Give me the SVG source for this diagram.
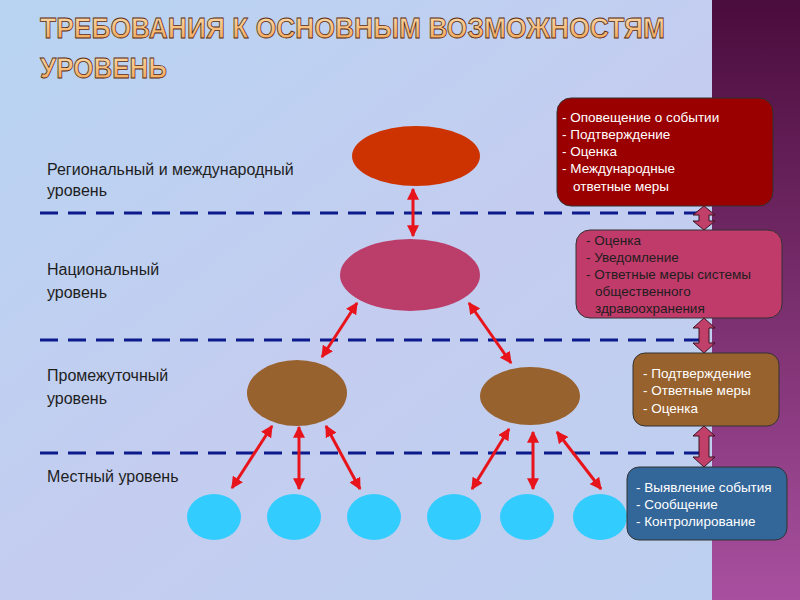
<svg xmlns="http://www.w3.org/2000/svg" width="800" height="600" viewBox="0 0 800 600">
<defs>
<linearGradient id="bg" x1="0" y1="0" x2="1" y2="1"><stop offset="0" stop-color="#b8d4f2"/><stop offset="0.5" stop-color="#c4cdf0"/><stop offset="1" stop-color="#bcd0f0"/></linearGradient>
<linearGradient id="strip" x1="0" y1="0" x2="0" y2="1"><stop offset="0" stop-color="#4a0c3c"/><stop offset="1" stop-color="#a8509f"/></linearGradient>
<linearGradient id="tt" x1="0" y1="0" x2="0" y2="1"><stop offset="0" stop-color="#fde0b0"/><stop offset="1" stop-color="#f0a050"/></linearGradient>
<marker id="ah" viewBox="0 0 10 10" refX="9" refY="5" markerWidth="4" markerHeight="4" orient="auto-start-reverse"><path d="M0,0 L10,5 L0,10 z" fill="#e8141c"/></marker>
</defs>
<style>
.lbl{font-family:"Liberation Sans",Arial,sans-serif;font-size:16px;fill:#1e1e1e}
.bt{font-family:"Liberation Sans",Arial,sans-serif;font-size:13.5px}
.dash{stroke:#0d1a8c;stroke-width:3;stroke-dasharray:18 10;fill:none}
.ar{stroke:#e8141c;stroke-width:3;fill:none;marker-start:url(#ah);marker-end:url(#ah)}
.box{stroke:#333;stroke-width:1}
.da{fill:#c0406a;stroke:#3a1020;stroke-width:1}
.title{font-family:"Liberation Sans",Arial,sans-serif;font-weight:bold;font-size:29px;fill:url(#tt);stroke:#5a2a10;stroke-width:0.8}
</style>
<rect width="800" height="600" fill="url(#bg)"/>
<rect x="712" y="0" width="88" height="600" fill="url(#strip)"/>
<text class="title" x="40" y="38" textLength="625" lengthAdjust="spacingAndGlyphs">ТРЕБОВАНИЯ К ОСНОВНЫМ ВОЗМОЖНОСТЯМ</text>
<text class="title" x="40" y="78" textLength="127" lengthAdjust="spacingAndGlyphs">УРОВЕНЬ</text>
<g id="connectors">
<path class="dash" d="M40,213 H700 M40,340 H700 M40,453 H700"/>
<line class="ar" x1="413" y1="189" x2="413" y2="236"/>
<line class="ar" x1="357" y1="303" x2="322" y2="357"/>
<line class="ar" x1="469" y1="303" x2="511" y2="363"/>
<line class="ar" x1="272" y1="426" x2="232" y2="488"/>
<line class="ar" x1="299" y1="427" x2="299" y2="489"/>
<line class="ar" x1="326" y1="426" x2="360" y2="489"/>
<line class="ar" x1="509" y1="429" x2="472" y2="489"/>
<line class="ar" x1="533" y1="432" x2="533" y2="489"/>
<line class="ar" x1="557" y1="432" x2="601" y2="489"/>
<path class="da" d="M704,206 L715,215 L709,215 L709,221 L715,221 L704,230 L693,221 L699,221 L699,215 L693,215 Z"/>
<path class="da" d="M704,318 L715,328 L709,328 L709,343 L715,343 L704,353 L693,343 L699,343 L699,328 L693,328 Z"/>
<path class="da" d="M704,426 L715,436 L709,436 L709,457 L715,457 L704,467 L693,457 L699,457 L699,436 L693,436 Z"/>
</g>
<g id="labels">
<text class="lbl" x="47" y="175">Региональный и международный</text>
<text class="lbl" x="47" y="196">уровень</text>
<text class="lbl" x="47" y="275">Национальный</text>
<text class="lbl" x="47" y="298">уровень</text>
<text class="lbl" x="47" y="381">Промежуточный</text>
<text class="lbl" x="47" y="404">уровень</text>
<text class="lbl" x="47" y="482">Местный уровень</text>
</g>
<g id="n-regional"><ellipse cx="416" cy="156" rx="64" ry="30" fill="#cc3300"/></g>
<g id="n-national"><ellipse cx="410" cy="275" rx="70" ry="36" fill="#bb3d6a"/></g>
<g id="n-inter1"><ellipse cx="297" cy="393" rx="50" ry="33" fill="#98622e"/></g>
<g id="n-inter2"><ellipse cx="530" cy="396" rx="50" ry="29" fill="#98622e"/></g>
<g id="n-local" fill="#33ccff">
<ellipse cx="214" cy="517" rx="27" ry="23"/><ellipse cx="294" cy="517" rx="27" ry="23"/><ellipse cx="374" cy="517" rx="27" ry="23"/>
<ellipse cx="454" cy="517" rx="27" ry="23"/><ellipse cx="527" cy="517" rx="27" ry="23"/><ellipse cx="600" cy="517" rx="27" ry="23"/>
</g>
<g id="box1"><rect class="box" x="557" y="98" width="216" height="108" rx="14" fill="#9b0000"/>
<text class="bt" fill="#fff"><tspan x="562" y="122">- Оповещение о событии</tspan><tspan x="562" y="139">- Подтверждение</tspan><tspan x="562" y="156">- Оценка</tspan><tspan x="562" y="173">- Международные</tspan><tspan x="573" y="191">ответные меры</tspan></text></g>
<g id="box2"><rect class="box" x="576" y="230" width="206" height="88" rx="14" fill="#c03a6a"/>
<text class="bt" fill="#1e1e1e"><tspan x="586" y="245">- Оценка</tspan><tspan x="586" y="262">- Уведомление</tspan><tspan x="586" y="279">- Ответные меры системы</tspan><tspan x="595" y="296">общественного</tspan><tspan x="595" y="313">здравоохранения</tspan></text></g>
<g id="box3"><rect class="box" x="633" y="353" width="146" height="73" rx="12" fill="#98622e"/>
<text class="bt" fill="#fff"><tspan x="643" y="378">- Подтверждение</tspan><tspan x="643" y="395">- Ответные меры</tspan><tspan x="643" y="413">- Оценка</tspan></text></g>
<g id="box4"><rect class="box" x="627" y="467" width="160" height="73" rx="12" fill="#336699"/>
<text class="bt" fill="#fff"><tspan x="636" y="492">- Выявление события</tspan><tspan x="636" y="509">- Сообщение</tspan><tspan x="636" y="526">- Контролирование</tspan></text></g>
</svg>
